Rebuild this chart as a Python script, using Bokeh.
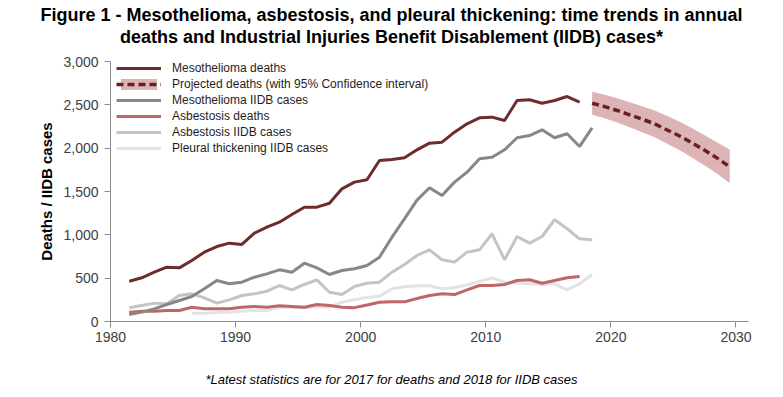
from bokeh.plotting import figure
from bokeh.models import (Range1d, FixedTicker, NumeralTickFormatter, Legend, LegendItem, Title)
from bokeh.embed import file_html
from bokeh.resources import INLINE

# ---------------- data ----------------
years_deaths = list(range(1981, 2018))
meso_deaths = [465, 504, 569, 627, 619, 704, 800, 865, 904, 889,
               1019, 1088, 1146, 1235, 1319, 1319, 1365, 1531, 1608, 1635,
               1858, 1869, 1889, 1981, 2058, 2069, 2185, 2281, 2350, 2358,
               2320, 2550, 2558, 2519, 2550, 2596, 2531]
asb_deaths = [108, 119, 119, 127, 127, 165, 146, 146, 146, 165,
              173, 165, 181, 173, 165, 196, 185, 165, 160, 190,
              223, 227, 227, 265, 300, 319, 311, 365, 415, 415,
              427, 473, 481, 442, 473, 504, 519]

years_iidb = list(range(1981, 2019))
meso_iidb = [81, 108, 146, 196, 242, 288, 377, 473, 435, 454,
             511, 550, 596, 569, 673, 619, 542, 588, 608, 646,
             742, 973, 1185, 1400, 1543, 1454, 1608, 1723, 1877, 1896,
             1981, 2120, 2146, 2212, 2120, 2166, 2020, 2235]
asb_iidb = [158, 185, 212, 204, 300, 319, 273, 212, 250, 300,
            319, 350, 415, 365, 427, 481, 338, 311, 404, 442,
            454, 569, 658, 762, 827, 712, 685, 800, 827, 1012,
            712, 981, 904, 981, 1174, 1070, 954, 943]

years_pleural = list(range(1986, 2019))
pleural_iidb = [96, 96, 104, 108, 119,
                127, 127, 165, 165, 158, 173, 165, 223, 250, 277,
                290, 377, 400, 410, 415, 377, 392, 421, 463, 504,
                454, 442, 435, 427, 435, 365, 435, 542]

proj_years = list(range(2018, 2030))
proj_deaths = [2519, 2480, 2435, 2385, 2335, 2280, 2210, 2140, 2060, 1975, 1885, 1785]
proj_upper = [2650, 2615, 2575, 2530, 2485, 2435, 2370, 2305, 2230, 2150, 2065, 1985]
proj_lower = [2385, 2345, 2295, 2240, 2185, 2125, 2050, 1975, 1890, 1800, 1705, 1595]

x_ticks = [1980, 1990, 2000, 2010, 2020, 2030]
y_ticks = [0, 500, 1000, 1500, 2000, 2500, 3000]

labels = ["Mesothelioma deaths",
          "Projected deaths (with 95% Confidence interval)",
          "Mesothelioma IIDB cases",
          "Asbestosis deaths",
          "Asbestosis IIDB cases",
          "Pleural thickening IIDB cases"]

title_lines = ["Figure 1 - Mesothelioma, asbestosis, and pleural thickening: time trends in annual",
               "deaths and Industrial Injuries Benefit Disablement (IIDB) cases*"]
footnote = "*Latest statistics are for 2017 for deaths and 2018 for IIDB cases"

# ---------------- helpers ----------------
def mid(ys):
    # values are plotted in the middle of each year
    return [y + 0.5 for y in ys]

# approximate Arial / Liberation Sans advance widths (1/1000 em), used to centre titles
_BOLD = dict(zip("abcdefghijklmnopqrstuvwxyz",
                 [556, 611, 556, 611, 556, 333, 611, 611, 278, 278, 556, 278, 889,
                  611, 611, 611, 611, 389, 556, 333, 611, 556, 778, 556, 556, 500]))
_BOLD.update(dict(zip("ABCDEFGHIJKLMNOPQRSTUVWXYZ",
                      [722, 722, 722, 722, 667, 611, 778, 722, 278, 556, 722, 611, 833,
                       722, 778, 667, 778, 722, 667, 611, 722, 667, 944, 667, 667, 611])))
_BOLD.update({" ": 278, "-": 333, ",": 278, ":": 333, "(": 333, ")": 333, "*": 389, ".": 278})
_REG = dict(zip("abcdefghijklmnopqrstuvwxyz",
                [556, 556, 500, 556, 556, 278, 556, 556, 222, 222, 500, 222, 833,
                 556, 556, 556, 556, 333, 500, 278, 556, 500, 722, 500, 500, 500]))
_REG.update(dict(zip("ABCDEFGHIJKLMNOPQRSTUVWXYZ",
                     [667, 667, 722, 722, 667, 611, 778, 722, 278, 500, 667, 556, 833,
                      722, 778, 667, 778, 722, 667, 611, 722, 667, 944, 667, 667, 611])))
_REG.update({" ": 278, "-": 333, ",": 278, ":": 278, "(": 333, ")": 333, "*": 389, ".": 278})

def text_width(s, size, table):
    return sum(table.get(ch, 556) for ch in s) / 1000.0 * size

# ---------------- layout constants ----------------
W, H = 783, 397
B_LEFT, B_RIGHT, B_TOP, B_BOTTOM = 110, 35, 61, 76
CENTER_X = 391          # horizontal centre of title / footnote on the page
FONT = "Liberation Sans"
TITLE_SIZE = 18
FOOT_SIZE = 13

p = figure(width=W, height=H, output_backend="svg", toolbar_location=None,
           x_range=Range1d(1980, 2031), y_range=Range1d(0, 3000),
           min_border_left=B_LEFT, min_border_right=B_RIGHT,
           min_border_top=B_TOP, min_border_bottom=B_BOTTOM)
p.outline_line_color = None
p.xgrid.grid_line_color = None
p.ygrid.grid_line_color = None
p.background_fill_color = "white"
p.border_fill_color = "white"

for ax in (p.xaxis[0], p.yaxis[0]):
    ax.axis_line_color = "#8c8c8c"
    ax.major_tick_line_color = "#8c8c8c"
    ax.minor_tick_line_color = None
    ax.major_tick_in = 0
    ax.major_tick_out = 6
    ax.major_label_text_font = FONT
    ax.major_label_text_font_size = "14px"
    ax.major_label_text_color = "#404040"

p.xaxis.ticker = FixedTicker(ticks=x_ticks)
p.yaxis.ticker = FixedTicker(ticks=y_ticks)
p.yaxis.formatter = NumeralTickFormatter(format="0,0")
p.yaxis.axis_label = "Deaths / IIDB cases"
p.yaxis.axis_label_text_font = FONT
p.yaxis.axis_label_text_font_size = "15px"
p.yaxis.axis_label_text_font_style = "bold"
p.yaxis.axis_label_text_color = "black"
p.yaxis.axis_label_standoff = 5
p.yaxis.major_label_standoff = 6
p.xaxis.major_label_standoff = 4

LW = 3
r_pl = p.line(mid(years_pleural), pleural_iidb, line_color="#e3e3e3", line_width=LW)
r_ai = p.line(mid(years_iidb), asb_iidb, line_color="#c4c4c4", line_width=LW)
r_ad = p.line(mid(years_deaths), asb_deaths, line_color="#bf6666", line_width=LW)
r_mi = p.line(mid(years_iidb), meso_iidb, line_color="#878787", line_width=LW)
r_md = p.line(mid(years_deaths), meso_deaths, line_color="#6e2c2c", line_width=LW)
r_band = p.varea(x=mid(proj_years), y1=proj_lower, y2=proj_upper, fill_color="#dcb4b5", fill_alpha=1.0)
r_pd = p.line(mid(proj_years), proj_deaths, line_color="#6a1f22", line_width=3.5, line_dash="7 4")

items = [LegendItem(label=labels[0], renderers=[r_md]),
         LegendItem(label=labels[1], renderers=[r_band, r_pd]),
         LegendItem(label=labels[2], renderers=[r_mi]),
         LegendItem(label=labels[3], renderers=[r_ad]),
         LegendItem(label=labels[4], renderers=[r_ai]),
         LegendItem(label=labels[5], renderers=[r_pl])]
ROW_H, ROW_GAP = 14, 2
legend = Legend(items=items)
legend.margin = 0
legend.padding = 0
legend.border_line_color = None
legend.background_fill_alpha = 0
legend.glyph_width = 45
legend.glyph_height = ROW_H
legend.label_height = ROW_H
legend.spacing = ROW_GAP
legend.label_standoff = 11
legend.label_text_font = FONT
legend.label_text_font_size = "12px"
legend.label_text_color = "#1e1e1e"
legend.label_text_baseline = "middle"
frame_h = H - B_TOP - B_BOTTOM
legend_h = 6 * ROW_H + 5 * ROW_GAP
legend.location = (6, frame_h - legend_h)
p.add_layout(legend, "center")

# ---------------- titles / footnote ----------------
def centred_title(text, size, style, table, **kw):
    w = text_width(text, size, table)
    return Title(text=text, align="left", offset=CENTER_X - B_LEFT - w / 2.0,
                 text_font=FONT, text_font_size=f"{size}px", text_font_style=style,
                 text_color="black", **kw)

def spacer(height):
    return Title(text=" ", text_font_size="2px", standoff=height)

# 'above' panels: the first added sits next to the frame
p.add_layout(spacer(10), "above")
p.add_layout(centred_title(title_lines[1], TITLE_SIZE, "bold", _BOLD,
                           standoff=0, vertical_align="middle"), "above")
p.add_layout(centred_title(title_lines[0], TITLE_SIZE, "bold", _BOLD,
                           standoff=0, vertical_align="middle"), "above")
# 'below' panels: after the x axis
p.add_layout(spacer(22), "below")
p.add_layout(centred_title(footnote, FOOT_SIZE, "italic", _REG,
                           standoff=0, vertical_align="middle"), "below")

open("out.html", "w").write(file_html(p, INLINE))
